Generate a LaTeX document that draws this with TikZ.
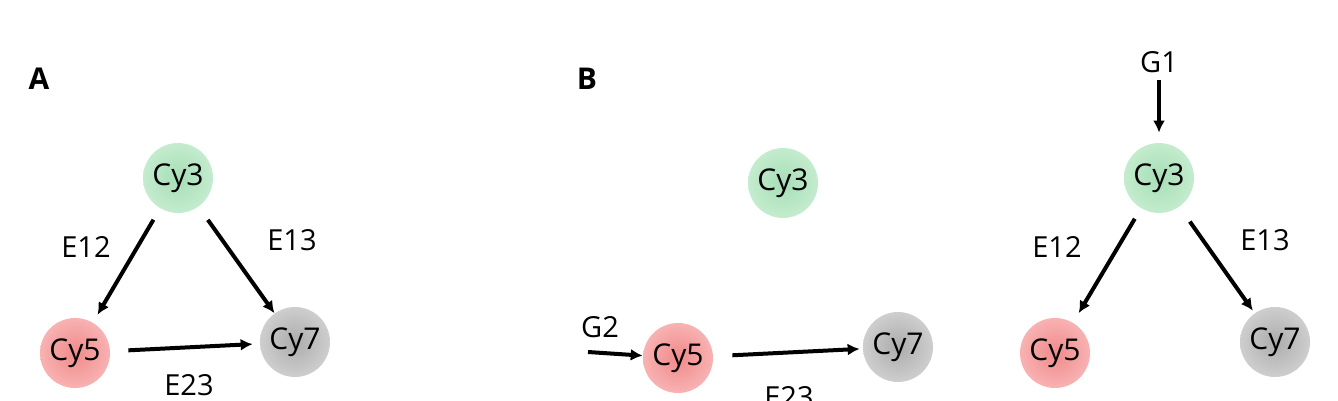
\documentclass[tikz,border=0pt]{standalone}
\usepackage{fontspec}
\setmainfont{Open Sans}
\usepackage{tikz}
\usetikzlibrary{arrows.meta}
\definecolor{cygreen}{RGB}{166,222,182}
\definecolor{cygreenrim}{RGB}{196,236,206}
\definecolor{cyred}{RGB}{240,138,138}
\definecolor{cyredrim}{RGB}{248,178,178}
\definecolor{cygray}{RGB}{172,172,172}
\definecolor{cygrayrim}{RGB}{206,206,206}
\tikzset{
  dyearrow/.style={-{Latex[length=6pt, width=6pt]}, line width=2pt,
    draw=black},
  dyenode/.style={circle, minimum size=35pt, inner sep=0pt,
    font=\fontsize{15}{17}\selectfont},
  cythree/.style={dyenode, shading=radial, inner color=cygreen,
    outer color=cygreenrim},
  cyfive/.style={dyenode, shading=radial, inner color=cyred,
    outer color=cyredrim},
  cyseven/.style={dyenode, shading=radial, inner color=cygray,
    outer color=cygrayrim},
  edgelabel/.style={anchor=base, font=\fontsize{14.5}{16}\selectfont},
  panellabel/.style={anchor=base, font=\fontsize{15}{17}\selectfont\bfseries}
}
\begin{document}
\begin{tikzpicture}[x=0.5pt, y=-0.5pt]
  \clip (0,0) rectangle (1338,401);

  % panel A
  \node[panellabel] (pa) at (39,90) {A};
  \node[cythree] (a3) at (178,178) {Cy3};
  \node[cyfive] (a5) at (75,353) {Cy5};
  \node[cyseven] (a7) at (295,342) {Cy7};
  \draw[dyearrow, shorten <=6.5pt, shorten >=4.5pt] (a3) -- (a5);
  \draw[dyearrow, shorten <=8pt, shorten >=0pt] (a3) -- (a7);
  \draw[dyearrow, shorten <=9pt, shorten >=3.5pt] (a5) -- (a7);
  \node[edgelabel] (a12) at (86,257) {E12};
  \node[edgelabel] (a13) at (292,250) {E13};
  \node[edgelabel] (a23) at (189,395) {E23};

  % panel B, G2 on Cy5
  \node[panellabel] (pb) at (587,90) {B};
  \node[cythree] (b3) at (783,183) {Cy3};
  \node[cyfive] (b5) at (678,358) {Cy5};
  \node[cyseven] (b7) at (898,347) {Cy7};
  \node[edgelabel] (g2) at (600,337) {G2};
  \coordinate (g2in) at (588,352);
  \draw[dyearrow] (g2in) -- (b5);
  \draw[dyearrow, shorten <=9.5pt, shorten >=1.5pt] (b5) -- (b7);
  \node[edgelabel] (b23) at (789,407) {E23};

  % panel B, G1 on Cy3
  \node[cythree] (c3) at (1159,178) {Cy3};
  \node[cyfive] (c5) at (1055,353) {Cy5};
  \node[cyseven] (c7) at (1275,342) {Cy7};
  \node[edgelabel] (g1) at (1159,73) {G1};
  \draw[dyearrow, shorten >=5pt] (g1.south) -- (c3.north);
  \draw[dyearrow, shorten <=6pt, shorten >=5.5pt] (c3) -- (c5);
  \draw[dyearrow, shorten <=9pt, shorten >=1.5pt] (c3) -- (c7);
  \node[edgelabel] (c12) at (1057,257) {E12};
  \node[edgelabel] (c13) at (1265,250) {E13};
\end{tikzpicture}
\end{document}
